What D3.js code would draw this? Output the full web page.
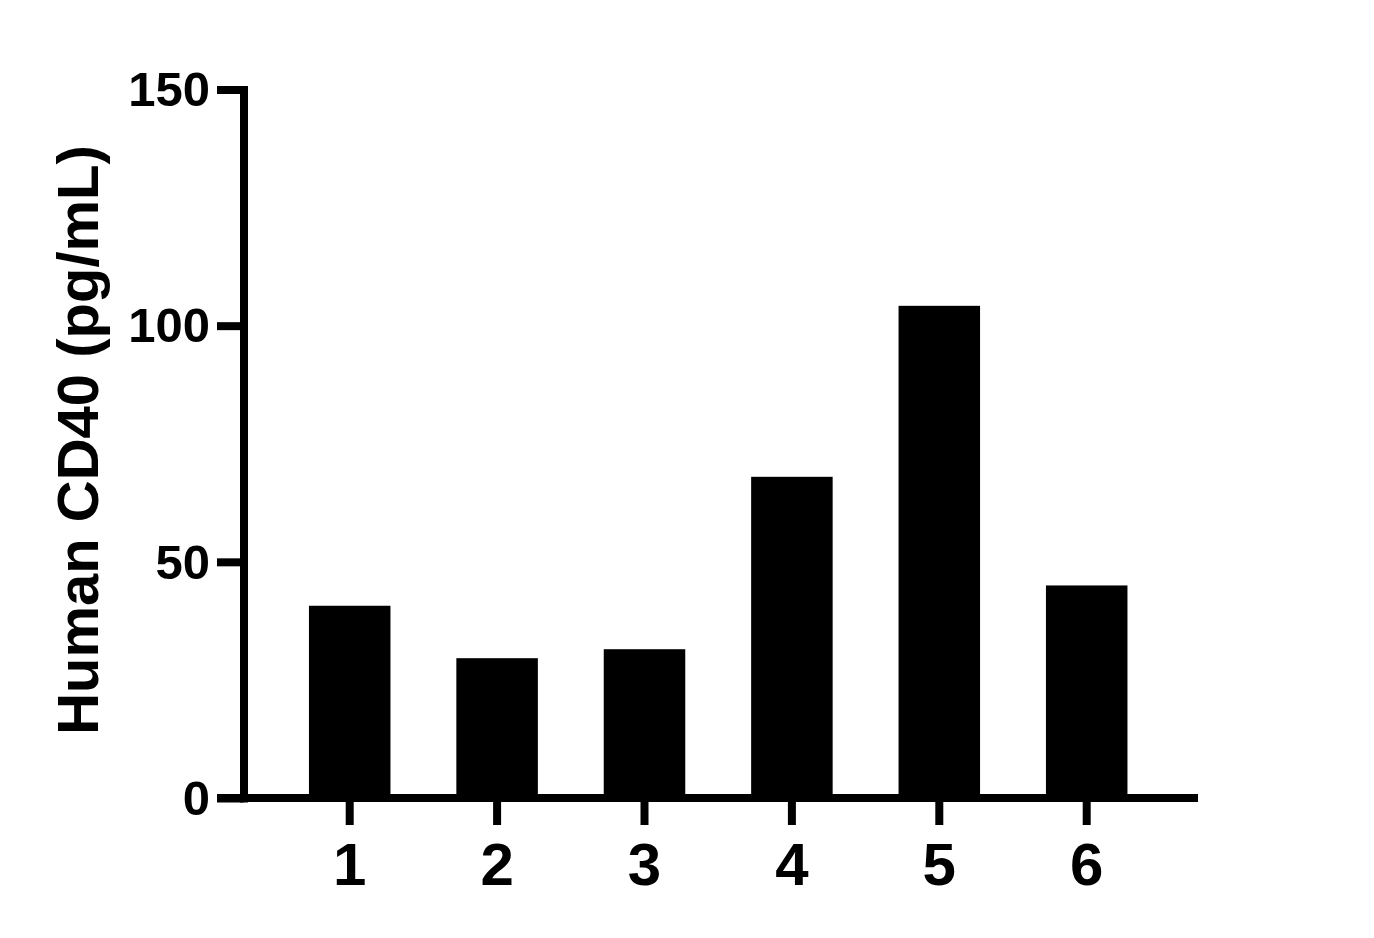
<!DOCTYPE html>
<html>
<head>
<meta charset="utf-8">
<script src="https://cdn.jsdelivr.net/npm/d3@7"></script>
<style>
  body { margin: 0; background: #fff; }
  text { font-family: "Liberation Sans", Arial, sans-serif; font-weight: bold; }
</style>
</head>
<body>
<div id="chart"></div>
<script>
// data
const categories = ["1", "2", "3", "4", "5", "6"];
const values = [40.7, 29.6, 31.5, 68.0, 104.2, 45.0];
const yTicks = [0, 50, 100, 150];
const yTitle = "Human CD40 (pg/mL)";

const width = 1374, height = 938;

const svg = d3.select("#chart").append("svg")
  .attr("width", width)
  .attr("height", height)
  .style("background", "#fff");

// scales
const y = d3.scaleLinear().domain([0, 150]).range([798, 89.5]);
const x = d3.scaleBand()
  .domain(categories)
  .range([276, 1160.4])
  .paddingInner(0.447)
  .paddingOuter(0.2235);

const axisLeftX = 243.5;
const axisRightX = 1198;
const tickLeftX = 217;

// bars
svg.append("g")
  .selectAll("rect")
  .data(values)
  .join("rect")
  .attr("x", (d, i) => x(categories[i]))
  .attr("width", x.bandwidth())
  .attr("y", d => y(d))
  .attr("height", d => y(0) - y(d))
  .attr("fill", "#000");

// y axis
const yAxis = svg.append("g")
  .attr("transform", `translate(${axisLeftX},0)`)
  .call(d3.axisLeft(y).tickValues(yTicks).tickSize(axisLeftX - tickLeftX).tickSizeOuter(0).tickPadding(7));
yAxis.select(".domain").attr("stroke", "#000").attr("stroke-width", 8).attr("stroke-linecap", "square");
yAxis.selectAll(".tick line").attr("stroke", "#000").attr("stroke-width", 8);
yAxis.selectAll(".tick text")
  .attr("fill", "#000")
  .style("font-size", "49px")
  .attr("dy", "0.33em");

// x axis
const xAxis = svg.append("g")
  .attr("transform", `translate(0,${y(0)})`)
  .call(d3.axisBottom(x).tickSize(27).tickSizeOuter(0).tickPadding(17));
xAxis.select(".domain").remove();
xAxis.selectAll(".tick line").attr("stroke", "#000").attr("stroke-width", 8);
xAxis.selectAll(".tick text")
  .attr("fill", "#000")
  .style("font-size", "60px");

// baseline drawn across full width
svg.append("line")
  .attr("x1", tickLeftX)
  .attr("x2", axisRightX)
  .attr("y1", y(0))
  .attr("y2", y(0))
  .attr("stroke", "#000")
  .attr("stroke-width", 8);

// y title
svg.append("text")
  .attr("transform", `translate(98,${(145 + 735) / 2}) rotate(-90)`)
  .attr("text-anchor", "middle")
  .style("font-size", "58px")
  .attr("fill", "#000")
  .text(yTitle);
</script>
</body>
</html>
